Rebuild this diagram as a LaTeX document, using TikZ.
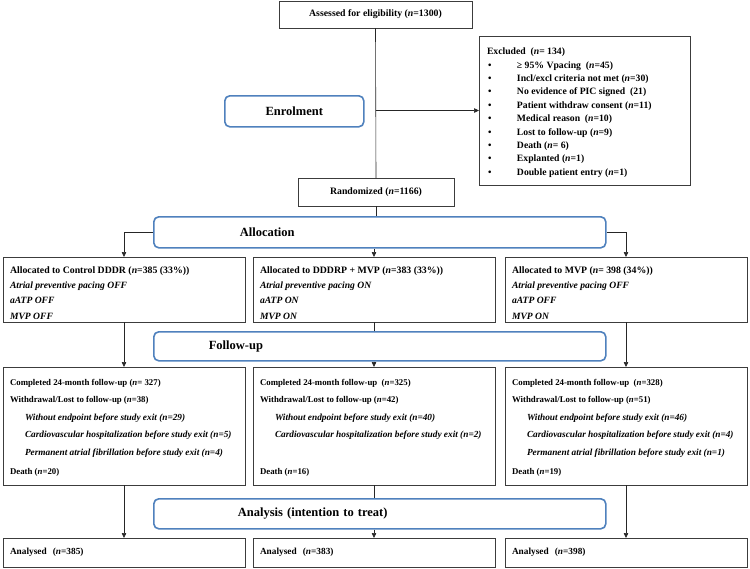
\documentclass[tikz,border=0pt]{standalone}
\usepackage{fontspec}
\setmainfont{Liberation Serif}
\usetikzlibrary{arrows.meta}
\definecolor{bblue}{RGB}{79,129,189}
\definecolor{lgray}{RGB}{60,60,60}
\newcommand{\itl}[1]{{\fontsize{9.3}{17.5}\selectfont\textit{#1}}}
\newcommand{\ita}[1]{{\fontsize{9.6}{15.3}\selectfont\textit{#1}}}
\begin{document}
\begin{tikzpicture}[x=1pt,y=-1pt,
 box/.style={draw=lgray, line width=0.7pt, inner sep=0pt, outer sep=0pt, anchor=north west},
 txt/.style={inner sep=0pt, outer sep=0pt, anchor=north west, align=left},
 phase/.style={draw=bblue, line width=1.6pt, rounded corners=5pt, fill=white, inner sep=0pt, anchor=north west, align=left, font=\fontsize{12.5}{14}\selectfont\bfseries},
 conn/.style={draw=black!85, line width=0.6pt},
 arr/.style={conn, -{Triangle[length=5pt,width=4.5pt]}},
 albox/.style={box, minimum width=242pt, minimum height=65pt},
 altxt/.style={txt, font=\fontsize{9.8}{15.3}\selectfont\bfseries},
 fubox/.style={box, minimum width=242pt, minimum height=118pt},
 futxt/.style={txt, font=\fontsize{8.8}{17.5}\selectfont\bfseries},
 anbox/.style={box, minimum width=242pt, minimum height=29pt, text width=228pt, align=left, font=\fontsize{9.3}{10}\selectfont\bfseries}]
\useasboundingbox (0,0) rectangle (750,568);

% top
\node[box, minimum width=193pt, minimum height=27pt, align=center, font=\fontsize{9.8}{11}\selectfont\bfseries] (assess) at (279,1) {Assessed for eligibility (\textit{n}=1300)};
\node[box, minimum width=211pt, minimum height=149pt] (excl) at (479,36) {};
\node[txt, font=\fontsize{9.7}{13.4}\selectfont\bfseries] (exclt) at (487,48) {%
Excluded\ \ (\textit{n}= 134)\\
\makebox[30pt][l]{\hspace{1pt}•}≥ 95\% Vpacing\ \ (\textit{n}=45)\\
\makebox[30pt][l]{\hspace{1pt}•}Incl/excl criteria not met (\textit{n}=30)\\
\makebox[30pt][l]{\hspace{1pt}•}No evidence of PIC signed\ \ (21)\\
\makebox[30pt][l]{\hspace{1pt}•}Patient withdraw consent (\textit{n}=11)\\
\makebox[30pt][l]{\hspace{1pt}•}Medical reason\ \ (\textit{n}=10)\\
\makebox[30pt][l]{\hspace{1pt}•}Lost to follow-up (\textit{n}=9)\\
\makebox[30pt][l]{\hspace{1pt}•}Death (\textit{n}= 6)\\
\makebox[30pt][l]{\hspace{1pt}•}Explanted (\textit{n}=1)\\
\makebox[30pt][l]{\hspace{1pt}•}Double patient entry (\textit{n}=1)};
\node[phase, minimum width=139pt, minimum height=31pt, align=center] (enrol) at (224,95) {Enrolment};
\node[box, minimum width=156pt, minimum height=28pt, align=center, font=\fontsize{9.8}{11}\selectfont\bfseries] (rand) at (298,178) {Randomized (\textit{n}=1166)};

% allocation
\node[phase, minimum width=452pt, minimum height=31pt, text width=452pt] (alloc) at (153,216) {\hspace*{86pt}Allocation};
\node[albox] (a1) at (3,257) {};
\node[albox] (a2) at (253,257) {};
\node[albox] (a3) at (505,257) {};
\node[altxt] (a1t) at (10,266.5) {Allocated to Control DDDR (\textit{n}=385 (33\%))\\\ita{Atrial preventive pacing OFF}\\\ita{aATP OFF}\\\ita{MVP OFF}};
\node[altxt] (a2t) at (260,266.5) {Allocated to DDDRP + MVP (\textit{n}=383 (33\%))\\\ita{Atrial preventive pacing ON}\\\ita{aATP ON}\\\ita{MVP ON}};
\node[altxt] (a3t) at (512,266.5) {Allocated to MVP (\textit{n}= 398 (34\%))\\\ita{Atrial preventive pacing OFF}\\\ita{aATP OFF}\\\ita{MVP ON}};

% follow-up
\node[phase, minimum width=452pt, minimum height=29pt, text width=452pt] (fu) at (153,331) {\hspace*{55pt}Follow-up};
\node[fubox] (f1) at (3,367) {};
\node[fubox] (f2) at (253,367) {};
\node[fubox] (f3) at (505,367) {};
\node[futxt] (f1t) at (10,378.8) {Completed 24-month follow-up (\textit{n}= 327)\\
Withdrawal/Lost to follow-up (\textit{n}=38)\\
\hspace*{15pt}\itl{Without endpoint before study exit (n=29)}\\
\hspace*{15pt}\itl{Cardiovascular hospitalization before study exit (n=5)}\\
\hspace*{15pt}\itl{Permanent atrial fibrillation before study exit (n=4)}\\[1.5pt]
Death (\textit{n}=20)};
\node[futxt] (f2t) at (260,378.8) {Completed 24-month follow-up\ \ (\textit{n}=325)\\
Withdrawal/Lost to follow-up (\textit{n}=42)\\
\hspace*{15pt}\itl{Without endpoint before study exit (n=40)}\\
\hspace*{15pt}\itl{Cardiovascular hospitalization before study exit (n=2)}\\
\mbox{}\\[1.5pt]
Death (\textit{n}=16)};
\node[futxt] (f3t) at (512,378.8) {Completed 24-month follow-up\ \ (\textit{n}=328)\\
Withdrawal/Lost to follow-up (\textit{n}=51)\\
\hspace*{15pt}\itl{Without endpoint before study exit (n=46)}\\
\hspace*{15pt}\itl{Cardiovascular hospitalization before study exit (n=4)}\\
\hspace*{15pt}\itl{Permanent atrial fibrillation before study exit (n=1)}\\[1.5pt]
Death (\textit{n}=19)};

% analysis
\node[phase, minimum width=452pt, minimum height=30pt, text width=452pt] (an) at (153,498) {\hspace*{84pt}Analysis (intention to treat)};
\node[anbox] (n1) at (3,538) {Analysed\ \ (\textit{n}=385)};
\node[anbox] (n2) at (253,538) {Analysed\ \ (\textit{n}=383)};
\node[anbox] (n3) at (505,538) {Analysed\ \ (\textit{n}=398)};

% connectors
\draw[conn] (assess.south) -- (rand.north);
\draw[arr] (assess.south |- excl.west) -- (excl.west);
\draw[conn] (rand.south) -- (alloc.north -| rand.south);
\draw[arr] (alloc.west) -| (a1.north);
\draw[arr] (alloc.east) -| (a3.north);
\draw[arr] (alloc.south -| a2.north) -- (a2.north);
\draw[arr] (a1.south) -- (f1.north);
\draw[conn] (a2.south) -- (fu.north -| a2.south);
\draw[arr] (fu.south -| f2.north) -- (f2.north);
\draw[arr] (a3.south) -- (f3.north);
\draw[arr] (f1.south) -- (n1.north);
\draw[conn] (f2.south) -- (an.north -| f2.south);
\draw[arr] (an.south -| n2.north) -- (n2.north);
\draw[arr] (f3.south) -- (n3.north);
\end{tikzpicture}
\end{document}
